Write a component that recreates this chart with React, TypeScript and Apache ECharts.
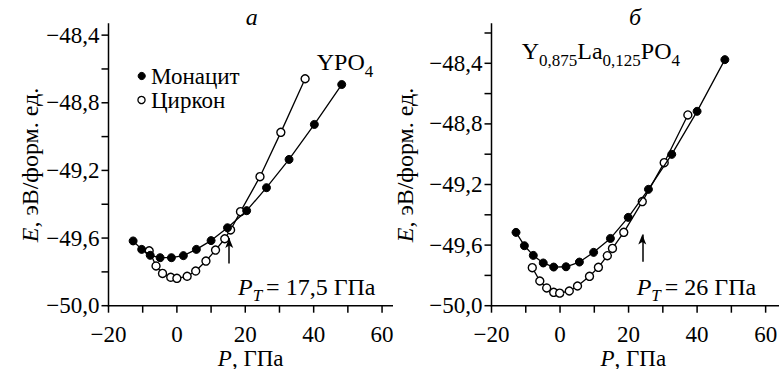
import React, { useEffect, useRef } from "react";
import * as echarts from "echarts";

// ---- data ----
// Panel a: YPO4
const monP_a = [-12.8, -10.3, -7.8, -4.9, -1.6, 1.9, 5.7, 10.0, 14.8, 20.4, 26.2, 32.8, 40.2, 48.2];
const monE_a = [-49.617, -49.667, -49.702, -49.716, -49.716, -49.704, -49.667, -49.615, -49.539, -49.438, -49.302, -49.135, -48.928, -48.692];
const zirP_a = [-8.1, -6.1, -4.2, -1.8, 0, 3.0, 5.5, 8.5, 11.3, 14.0, 15.7, 18.6, 24.3, 30.4, 37.5];
const zirE_a = [-49.675, -49.765, -49.809, -49.832, -49.838, -49.826, -49.795, -49.736, -49.671, -49.604, -49.552, -49.444, -49.237, -48.975, -48.658];
// Panel б: Y0.875La0.125PO4
const monP_b = [-12.85, -10.4, -7.8, -4.9, -1.85, 1.75, 5.65, 9.8, 14.7, 19.9, 25.8, 32.6, 40.0, 48.1];
const monE_b = [-49.516, -49.604, -49.668, -49.718, -49.745, -49.743, -49.712, -49.648, -49.556, -49.417, -49.232, -49.001, -48.717, -48.376];
const zirP_b = [-8.1, -5.9, -3.9, -1.85, -0.1, 2.7, 5.1, 8.6, 11.2, 13.8, 15.3, 18.6, 24.0, 30.4, 37.3];
const zirE_b = [-49.749, -49.837, -49.883, -49.912, -49.917, -49.903, -49.870, -49.806, -49.747, -49.670, -49.622, -49.516, -49.313, -49.056, -48.741];

// transition-pressure arrows [P, E from, E to]
const arrowP = [15.3, 24.0];
const arrowFrom = [-49.75, -49.71];
const arrowTo = [-49.6, -49.53];

const seriesNames = ["Монацит", "Циркон"];
// axis ranges, ticks and labels
const xMin = -20;
const yMin = -50;
const xMaxA = 63.2, xMaxB = 63.9;
const yMaxA = -48.33, yMaxB = -48.136;
const xTicks = [-20, -10, 0, 10, 20, 30, 40, 50, 60];
const xLabels = [-20, 0, 20, 40, 60];
const yTicksA = [-50, -49.8, -49.6, -49.4, -49.2, -49.0, -48.8, -48.6, -48.4];
const yTicksB = [-50, -49.8, -49.6, -49.4, -49.2, -49.0, -48.8, -48.6, -48.4, -48.2];
const yLabels = [-50, -49.6, -49.2, -48.8, -48.4];

const FAMILY = "Liberation Serif, DejaVu Serif, serif";

// layout (pixels): plot frame of each panel and the grid rect that contains it
const W = 779, H = 369;
const PANELS = [
  { left: 108.5, bottom: 305.7, width: 284.5, height: 282.4, gx0: 0, gx1: 400, xMax: xMaxA, yMax: yMaxA, yTicks: yTicksA },
  { left: 491.5, bottom: 305.7, width: 287.5, height: 282.4, gx0: 400, gx1: W, xMax: xMaxB, yMax: yMaxB, yTicks: yTicksB },
];

let measureCtx: CanvasRenderingContext2D | null = null;
function measure(text: string, size: number, italic: boolean) {
  if (!measureCtx) measureCtx = document.createElement("canvas").getContext("2d");
  measureCtx!.font = `${italic ? "italic " : ""}${size}px ${FAMILY}`;
  return measureCtx!.measureText(text).width;
}

function txtStyle(text: string, size: number, italic: boolean, align: string, valign = "middle") {
  return {
    text,
    fontSize: size,
    fontFamily: FAMILY,
    fontStyle: italic ? "italic" : "normal",
    fill: "#000",
    textAlign: align,
    textVerticalAlign: valign,
  };
}

type Part = { t: string; size: number; italic?: boolean; dy?: number; gap?: number };
function spans(x0: number, yMid: number, parts: Part[]) {
  let x = x0;
  return parts.map((p) => {
    x += p.gap || 0;
    const el = {
      type: "text",
      x,
      y: yMid + (p.dy || 0),
      silent: true,
      z: 20,
      style: txtStyle(p.t, p.size, !!p.italic, "left"),
    };
    x += measure(p.t, p.size, !!p.italic);
    return el;
  });
}

const fmtY = (v: number) => v.toFixed(1).replace("-", "\u2212").replace(".", ",");
const fmtX = (v: number) => String(v).replace("-", "\u2212");

function zip(a: number[], b: number[]) {
  return a.map((v, i) => [v, b[i]]);
}

function richName(x: number, y: number, rot: number, lead: string, rest: string, size: number) {
  return {
    type: "text",
    x,
    y,
    rotation: rot,
    silent: true,
    z: 20,
    style: {
      ...txtStyle(`{i|${lead}}{n|${rest}}`, size, false, "center"),
      rich: {
        i: { fontSize: size, fontFamily: FAMILY, fontStyle: "italic", fill: "#000" },
        n: { fontSize: size, fontFamily: FAMILY, fontStyle: "normal", fill: "#000" },
      },
    },
  };
}

export default function App() {
  const ref = useRef<HTMLDivElement>(null);
  useEffect(() => {
    const chart = echarts.init(ref.current!, null, { renderer: "svg" });

    // each grid covers its whole panel; axis extents are widened so the plot frame sits where the reference has it
    const grids: any[] = [];
    const xAxes: any[] = [];
    const yAxes: any[] = [];
    PANELS.forEach((p, gi) => {
      const sx = p.width / (p.xMax - xMin);
      const sy = p.height / (p.yMax - yMin);
      grids.push({ left: p.gx0, top: 0, width: p.gx1 - p.gx0, height: H });
      const hidden = { axisLine: { show: false, onZero: false }, axisTick: { show: false }, axisLabel: { show: false }, splitLine: { show: false } };
      xAxes.push({ type: "value", gridIndex: gi, min: xMin - (p.left - p.gx0) / sx, max: xMin + (p.gx1 - p.left) / sx, ...hidden });
      yAxes.push({ type: "value", gridIndex: gi, min: yMin - (H - p.bottom) / sy, max: yMin + p.bottom / sy, ...hidden });
    });

    const lineSeries = (name: string, gi: number, data: number[][], filled: boolean, z: number) => ({
      type: "line",
      name,
      xAxisIndex: gi,
      yAxisIndex: gi,
      data,
      z,
      clip: false,
      symbol: "circle",
      symbolSize: 8,
      showSymbol: true,
      lineStyle: { color: "#000", width: 1.3 },
      itemStyle: filled
        ? { color: "#000", borderColor: "#000", borderWidth: 1 }
        : { color: "#fff", borderColor: "#000", borderWidth: 1.4 },
      emphasis: { disabled: true },
    });
    const arrow = (i: number) => ({
      silent: true,
      symbol: ["none", "arrow"],
      symbolSize: [6, 10],
      label: { show: false },
      lineStyle: { color: "#000", width: 1.5, type: "solid" },
      emphasis: { disabled: true },
      data: [[{ coord: [arrowP[i], arrowFrom[i]] }, { coord: [arrowP[i], arrowTo[i]] }]],
    });

    const zA = lineSeries(seriesNames[1], 0, zip(zirP_a, zirE_a), false, 2);
    (zA as any).markLine = arrow(0);
    const zB = lineSeries(seriesNames[1], 1, zip(zirP_b, zirE_b), false, 2);
    (zB as any).markLine = arrow(1);

    chart.setOption({
      animation: false,
      backgroundColor: "#fff",
      textStyle: { fontFamily: FAMILY },
      grid: grids,
      xAxis: xAxes,
      yAxis: yAxes,
      series: [
        zA,
        lineSeries(seriesNames[0], 0, zip(monP_a, monE_a), true, 3),
        zB,
        lineSeries(seriesNames[0], 1, zip(monP_b, monE_b), true, 3),
      ],
    });

    // axis frames, ticks and tick labels, positioned through each grid's scales
    const TL = 7;
    const st = () => ({ stroke: "#000", lineWidth: 1.5 });
    const frame = (gi: number) => {
      const p = PANELS[gi];
      const px = (x: number, y: number) => chart.convertToPixel({ gridIndex: gi } as any, [x, y]) as number[];
      const o = px(xMin, yMin);
      const top = px(xMin, p.yMax);
      const right = px(p.xMax, yMin);
      const els: any[] = [
        { type: "line", silent: true, z: 10, shape: { x1: o[0], y1: top[1], x2: o[0], y2: o[1] + 0.75 }, style: st() },
        { type: "line", silent: true, z: 10, shape: { x1: o[0] - 0.75, y1: o[1], x2: right[0], y2: o[1] }, style: st() },
      ];
      xTicks.forEach((v) => {
        const c = px(v, yMin);
        els.push({ type: "line", silent: true, z: 10, shape: { x1: c[0], y1: c[1], x2: c[0], y2: c[1] + TL }, style: st() });
      });
      p.yTicks.forEach((v) => {
        const c = px(xMin, v);
        els.push({ type: "line", silent: true, z: 10, shape: { x1: c[0], y1: c[1], x2: c[0] - TL, y2: c[1] }, style: st() });
      });
      xLabels.forEach((v) => {
        const c = px(v, yMin);
        els.push({ type: "text", silent: true, z: 20, x: c[0], y: c[1] + 17, style: txtStyle(fmtX(v), 23, false, "center", "top") });
      });
      yLabels.forEach((v) => {
        const c = px(xMin, v);
        els.push({ type: "text", silent: true, z: 20, x: c[0] - 9, y: c[1], style: txtStyle(fmtY(v), 23, false, "right", "middle") });
      });
      return els;
    };

    const graphic: any[] = [
      ...frame(0),
      ...frame(1),
      // panel titles
      { type: "text", x: 251.7, y: 17, silent: true, z: 20, style: txtStyle("a", 24, true, "center") },
      { type: "text", x: 635, y: 17, silent: true, z: 20, style: txtStyle("б", 24, true, "center") },
      // legend
      { type: "circle", shape: { cx: 141.7, cy: 76, r: 3.6 }, silent: true, z: 20, style: { fill: "#000", stroke: "#000", lineWidth: 1 } },
      { type: "circle", shape: { cx: 141.5, cy: 100, r: 3.6 }, silent: true, z: 20, style: { fill: "#fff", stroke: "#000", lineWidth: 1.3 } },
      ...spans(151, 76, [{ t: seriesNames[0], size: 23 }]),
      ...spans(151, 100, [{ t: seriesNames[1], size: 23 }]),
      // compound labels
      ...spans(316.7, 62, [
        { t: "YPO", size: 24 },
        { t: "4", size: 17, dy: 9 },
      ]),
      ...spans(521.7, 51, [
        { t: "Y", size: 24 },
        { t: "0,875", size: 17, dy: 9 },
        { t: "La", size: 24 },
        { t: "0,125", size: 17, dy: 9 },
        { t: "PO", size: 24 },
        { t: "4", size: 17, dy: 9 },
      ]),
      // transition pressures
      ...spans(238, 287, [
        { t: "P", size: 24, italic: true },
        { t: "T", size: 17, italic: true, dy: 8 },
        { t: "= 17,5 ГПа", size: 24, gap: 4 },
      ]),
      ...spans(636.7, 287, [
        { t: "P", size: 24, italic: true },
        { t: "T", size: 17, italic: true, dy: 8 },
        { t: "= 26 ГПа", size: 24, gap: 4 },
      ]),
      // axis names
      richName(30, 165, Math.PI / 2, "E", ", эВ/форм. ед.", 24),
      richName(405, 165, Math.PI / 2, "E", ", эВ/форм. ед.", 24),
      richName(250.7, 358, 0, "P", ", ГПа", 23),
      richName(633.3, 358, 0, "P", ", ГПа", 23),
    ];
    chart.setOption({ graphic });
    return () => chart.dispose();
  }, []);
  return <div ref={ref} style={{ width: W, height: H, position: "absolute", left: 0, top: 0 }} />;
}
